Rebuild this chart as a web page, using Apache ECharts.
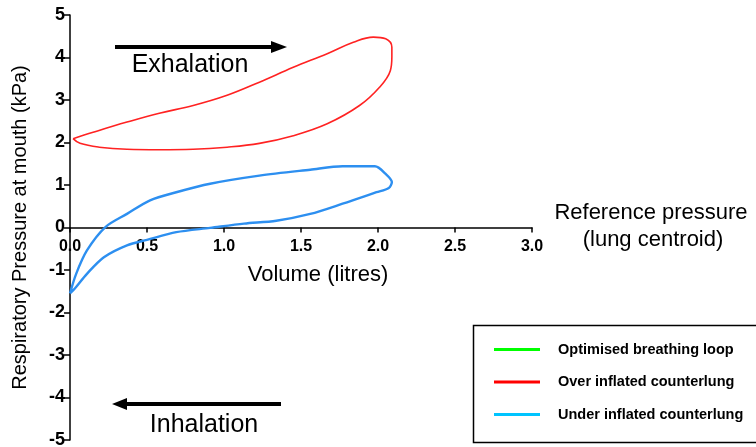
<!DOCTYPE html>
<html>
<head>
<meta charset="utf-8">
<script src="https://cdn.jsdelivr.net/npm/echarts@6/dist/echarts.min.js"></script>
<style>html,body{margin:0;padding:0;background:#fff}#c{width:756px;height:447px}</style>
</head>
<body>
<div id="c"></div>
<script>
var xTicks = ['0.0','0.5','1.0','1.5','2.0','2.5','3.0'];
var yTicks = [-5,-4,-3,-2,-1,0,1,2,3,4,5];
var seriesNames = ['Optimised breathing loop','Over inflated counterlung','Under inflated counterlung'];
var optimisedLoop = [];
var overInflated = [
 [0.02,2.09],[0.15,2.24],[0.37,2.48],[0.58,2.69],[0.80,2.87],[1.02,3.11],[1.23,3.42],[1.45,3.77],[1.67,4.09],[1.84,4.36],[1.97,4.48],[2.05,4.44],[2.09,4.24],[2.09,4.01],[2.08,3.69],[2.01,3.30],[1.88,2.87],[1.67,2.44],[1.45,2.16],[1.23,1.98],[1.02,1.89],[0.80,1.84],[0.58,1.83],[0.37,1.84],[0.19,1.89],[0.065,1.98],[0.02,2.09]
];
var underInflated = [
 [0.0,-1.55],[0.04,-1.09],[0.11,-0.54],[0.23,0.01],[0.37,0.32],[0.52,0.64],[0.69,0.83],[0.91,1.03],[1.23,1.22],[1.56,1.36],[1.77,1.44],[1.98,1.44],[2.05,1.26],[2.09,1.07],[2.07,0.93],[1.99,0.83],[1.77,0.56],[1.56,0.32],[1.34,0.16],[1.13,0.09],[0.91,-0.01],[0.69,-0.11],[0.50,-0.29],[0.37,-0.42],[0.22,-0.70],[0.11,-1.09],[0.03,-1.44],[0.0,-1.55]
];
var chart = echarts.init(document.getElementById('c'));
var F = 'Liberation Sans, Arial, sans-serif';
var gridTop = 15, gridBottom = 7, H = 447;
var zeroOffset = -((H - gridTop - gridBottom) / 2);
chart.setOption({
 animation:false,
 grid:{left:70,right:224,top:gridTop,bottom:gridBottom,containLabel:false,outerBoundsMode:'none'},
 xAxis:{type:'value',min:0,max:3,interval:0.5,position:'bottom',offset:zeroOffset,
  axisLine:{onZero:false,lineStyle:{color:'#000',width:1.5}},
  axisTick:{show:true,length:5,lineStyle:{color:'#000',width:1.5}},
  splitLine:{show:false},
  axisLabel:{margin:11,color:'#000',fontFamily:F,fontWeight:'bold',fontSize:16,
   formatter:function(v){return xTicks[Math.round(v*2)];}}
 },
 yAxis:{type:'value',min:-5,max:5,interval:1,
  name:'Respiratory Pressure at mouth (kPa)',nameLocation:'middle',nameGap:40,
  nameTextStyle:{color:'#000',fontFamily:F,fontSize:20},
  axisLine:{onZero:false,lineStyle:{color:'#000',width:1.5}},
  axisTick:{show:true,length:6,lineStyle:{color:'#000',width:1.5}},
  splitLine:{show:false},
  axisLabel:{margin:5,color:'#000',fontFamily:F,fontWeight:'bold',fontSize:18,
   formatter:function(v){return String(yTicks[v+5]);}}
 },
 legend:{show:true,orient:'vertical',left:489,top:337,itemGap:17.5,itemWidth:46,itemHeight:3,
  icon:'rect',textStyle:{color:'#000',fontFamily:F,fontWeight:'bold',fontSize:14.5,padding:[0,0,0,13]},
  data:[
   {name:seriesNames[0],itemStyle:{color:'#00ff00'}},
   {name:seriesNames[1],itemStyle:{color:'#ff0000'}},
   {name:seriesNames[2],itemStyle:{color:'#00c4ff'}}
  ]},
 series:[
  {name:seriesNames[0],type:'line',data:optimisedLoop,showSymbol:false,lineStyle:{color:'#00ff00',width:2},itemStyle:{color:'#00ff00'}},
  {name:seriesNames[1],type:'line',data:overInflated,smooth:0.4,showSymbol:false,lineStyle:{color:'#ff2222',width:1.6},itemStyle:{color:'#ff0000'}},
  {name:seriesNames[2],type:'line',data:underInflated,smooth:0.3,showSymbol:false,lineStyle:{color:'#2d8ff0',width:2.4},itemStyle:{color:'#00c4ff'}}
 ],
 graphic:[
  {type:'rect',shape:{x:473.5,y:325.5,width:300,height:117},style:{fill:'none',stroke:'#000',lineWidth:1.5},z:-1},
  {type:'text',style:{x:318,y:275,text:'Volume (litres)',fill:'#000',font:'22px '+F,textAlign:'center',textVerticalAlign:'middle'}},
  {type:'text',style:{x:651,y:213,text:'Reference pressure',fill:'#000',font:'22px '+F,textAlign:'center',textVerticalAlign:'middle'}},
  {type:'text',style:{x:653,y:240,text:'(lung centroid)',fill:'#000',font:'22px '+F,textAlign:'center',textVerticalAlign:'middle'}},
  {type:'text',style:{x:190,y:65,text:'Exhalation',fill:'#000',font:'25px '+F,textAlign:'center',textVerticalAlign:'middle'}},
  {type:'text',style:{x:204,y:425,text:'Inhalation',fill:'#000',font:'25px '+F,textAlign:'center',textVerticalAlign:'middle'}},
  {type:'rect',shape:{x:115,y:45,width:158,height:4},style:{fill:'#000'}},
  {type:'polygon',shape:{points:[[271,41],[287,47],[271,53]]},style:{fill:'#000'}},
  {type:'rect',shape:{x:125,y:402,width:156,height:4},style:{fill:'#000'}},
  {type:'polygon',shape:{points:[[127,398],[112,404],[127,410]]},style:{fill:'#000'}}
 ]
});
</script>
</body>
</html>
